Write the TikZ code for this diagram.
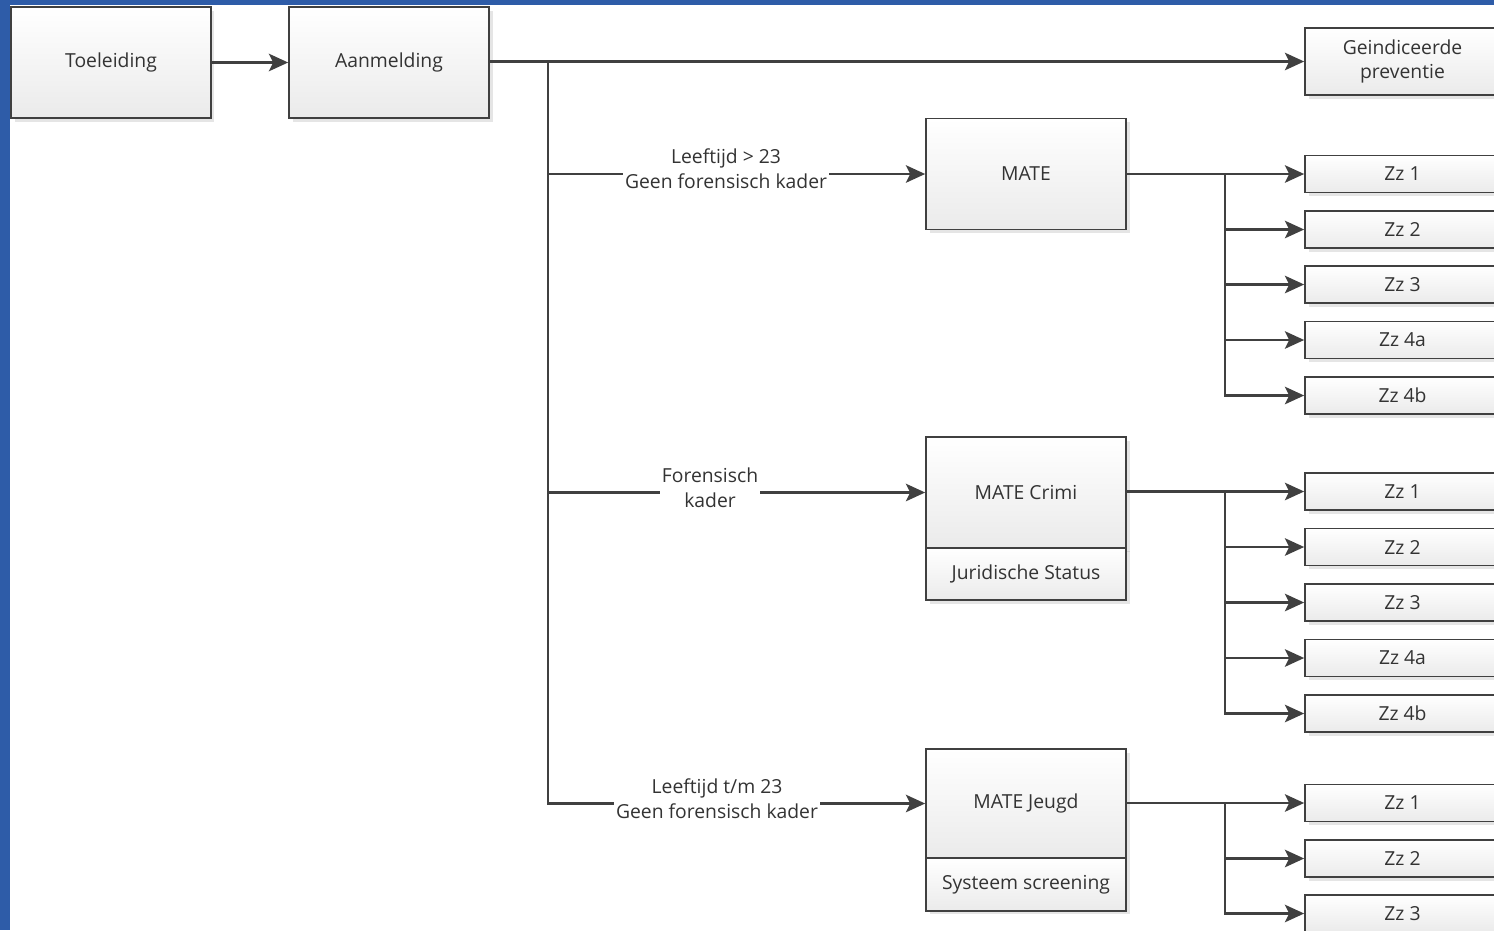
\documentclass[tikz,border=0pt]{standalone}
\usepackage{fontspec}
\setmainfont{Open Sans}
\usetikzlibrary{arrows.meta,shadows}
\definecolor{frameblue}{RGB}{46,92,168}
\definecolor{linegray}{RGB}{64,64,64}
\definecolor{textgray}{RGB}{51,51,51}
\tikzset{
	box/.style={draw=linegray, line width=1pt, top color=white, bottom color=black!8,
		text=textgray, font=\fontsize{11}{14}\selectfont, inner sep=0pt, align=center,
		drop shadow={shadow xshift=2pt, shadow yshift=-2pt, opacity=0.2}},
	bigbox/.style={box, minimum width=4cm, minimum height=2.22cm},
	subbox/.style={box, minimum width=4cm, minimum height=1.05cm},
	zzbox/.style={box, minimum width=3.9cm, minimum height=0.74cm},
	lbl/.style={fill=white, text=textgray, font=\fontsize{11}{14}\selectfont, align=center, inner sep=1pt},
	conn/.style={color=linegray, line width=1.2pt, -{Stealth[length=11pt,width=10pt,inset=2.5pt]}}
}

\begin{document}
\begin{tikzpicture}[x=0.02cm, y=-0.02cm]
	\clip (0,0) rectangle (1494,930);
	\fill[frameblue] (0,0) rectangle (1494,930);
	\fill[white] (10,5) rectangle (1494,930);

	\node[bigbox](toel) at (111,62.5) {Toeleiding};
	\node[bigbox](aanm) at (389,62.5) {Aanmelding};
	\node[box, minimum width=3.9cm, minimum height=1.34cm](gip) at (1402.5,61.5) {Geindiceerde\\preventie};

	\node[bigbox](mate) at (1026,174) {MATE};
	\node[bigbox](crimi) at (1026,492.5) {MATE Crimi};
	\node[subbox](juri) at (1026,574) {Juridische Status};
	\node[bigbox, minimum height=2.18cm](jeugd) at (1026,803.5) {MATE Jeugd};
	\node[subbox](syst) at (1026,884.5) {Systeem screening};

	\node[zzbox](za1) at (1402.5,174) {Zz 1};
	\node[zzbox](za2) at (1402.5,229.5) {Zz 2};
	\node[zzbox](za3) at (1402.5,284.5) {Zz 3};
	\node[zzbox](za4) at (1402.5,340) {Zz 4a};
	\node[zzbox](za5) at (1402.5,395.5) {Zz 4b};

	\node[zzbox](zb1) at (1402.5,491.5) {Zz 1};
	\node[zzbox](zb2) at (1402.5,547) {Zz 2};
	\node[zzbox](zb3) at (1402.5,602.5) {Zz 3};
	\node[zzbox](zb4) at (1402.5,658) {Zz 4a};
	\node[zzbox](zb5) at (1402.5,713.5) {Zz 4b};

	\node[zzbox](zc1) at (1402.5,803) {Zz 1};
	\node[zzbox](zc2) at (1402.5,858.5) {Zz 2};
	\node[zzbox](zc3) at (1402.5,913.5) {Zz 3};

	\coordinate(split) at (548,62);
	\coordinate(ka) at (1225,174);
	\coordinate(kb) at (1225,491.5);
	\coordinate(kc) at (1225,803);

	\draw[conn](toel) -- (aanm);
	\draw[conn](aanm.east |- gip) -- (gip);
	\draw[conn](split) |- (mate);
	\draw[conn](split) |- (crimi);
	\draw[conn](split) |- (jeugd);

	\node[lbl](l1) at (726,168.5) {Leeftijd > 23\\Geen forensisch kader};
	\node[lbl](l2) at (710,487.5) {Forensisch\\kader};
	\node[lbl](l3) at (717,798.5) {Leeftijd t/m 23\\Geen forensisch kader};

	\draw[conn](mate) -- (za1);
	\draw[conn](ka) |- (za2);
	\draw[conn](ka) |- (za3);
	\draw[conn](ka) |- (za4);
	\draw[conn](ka) |- (za5);

	\draw[conn](crimi.east |- zb1) -- (zb1);
	\draw[conn](kb) |- (zb2);
	\draw[conn](kb) |- (zb3);
	\draw[conn](kb) |- (zb4);
	\draw[conn](kb) |- (zb5);

	\draw[conn](jeugd.east |- zc1) -- (zc1);
	\draw[conn](kc) |- (zc2);
	\draw[conn](kc) |- (zc3);
\end{tikzpicture}
\end{document}
